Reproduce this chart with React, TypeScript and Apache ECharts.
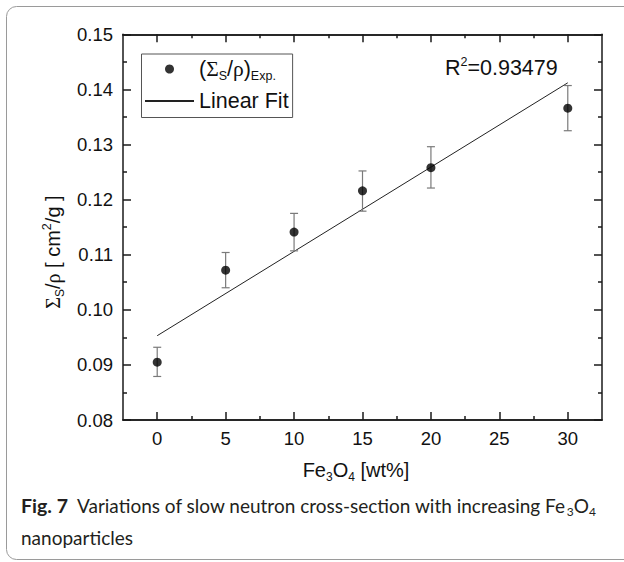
import React, { useEffect, useRef } from 'react';
import * as echarts from 'echarts';

// ---- data ----
const fe3o4Wt = [0, 5, 10, 15, 20, 30];
const sigmaRho = [0.0905, 0.1072, 0.1141, 0.1216, 0.1258, 0.1366];
const errLow = [0.0879, 0.104, 0.1107, 0.1179, 0.1221, 0.1325];
const errHigh = [0.0932, 0.1104, 0.1175, 0.1252, 0.1296, 0.1407];
const fitX = [0, 30];
const fitY = [0.0953, 0.1412];
const xMajorTicks = [0, 5, 10, 15, 20, 25, 30];
const xMinorTicks = [2.5, 7.5, 12.5, 17.5, 22.5, 27.5];
const xRange = [-2.5, 32.5];
const yRange = [0.08, 0.15];
const yStep = 0.01;
const rSquaredText = 'R{p|2}=0.93479';

const SANS = '"Liberation Sans", Arial, sans-serif';
const SERIF = '"Liberation Serif", "Times New Roman", serif';
const CAP = 'Lato, "Open Sans", sans-serif';

export default function App() {
  const ref = useRef<HTMLDivElement>(null);

  useEffect(() => {
    document.body.style.margin = '0';
    const chart = echarts.init(ref.current as HTMLDivElement, null, { renderer: 'svg' });

    const pts = fe3o4Wt.map((x, i) => [x, sigmaRho[i]]);
    const errs = fe3o4Wt.map((x, i) => [x, errLow[i], errHigh[i]]);
    const fit = fitX.map((x, i) => [x, fitY[i]]);

    const axisLine = { show: true, onZero: false, lineStyle: { color: '#1a1a1a', width: 1.5 } };
    const xBase = {
      type: 'value',
      min: xRange[0],
      max: xRange[1],
      gridIndex: 0,
      splitLine: { show: false },
      axisLine,
    };
    const majorTick = (vals: number[]) => ({
      show: true, inside: true, length: 8, customValues: vals,
      lineStyle: { color: '#1a1a1a', width: 1.5 },
    });
    const minorTickX = (vals: number[]) => ({
      show: true, inside: true, length: 4, customValues: vals,
      lineStyle: { color: '#1a1a1a', width: 1.5 },
    });
    const yBase = {
      type: 'value',
      min: yRange[0],
      max: yRange[1],
      interval: yStep,
      splitLine: { show: false },
      axisLine,
      axisTick: { show: true, inside: true, length: 8, lineStyle: { color: '#1a1a1a', width: 1.5 } },
      minorTick: { show: true, splitNumber: 2, length: 4, lineStyle: { color: '#1a1a1a', width: 1.5 } },
    };

    const subStyle = { fontSize: 12, lineHeight: 14, verticalAlign: 'bottom', fontFamily: SANS, color: '#111' };
    const subLegend = { fontSize: 12.5, lineHeight: 14, verticalAlign: 'bottom', fontFamily: SANS, color: '#111' };
    const supStyle = { fontSize: 12.5, lineHeight: 16, verticalAlign: 'top', fontFamily: SANS, color: '#111' };
    const greek = { fontSize: 20, lineHeight: 26, fontFamily: SERIF, color: '#111' };
    const greekL = { fontSize: 21.5, lineHeight: 26, fontFamily: SERIF, color: '#111' };

    chart.setOption({
      animation: false,
      backgroundColor: '#fff',
      grid: { left: 123, right: 22, top: 34.3, bottom: 142, containLabel: false, outerBoundsMode: 'none' },
      xAxis: [
        {
          ...xBase, position: 'bottom',
          axisTick: majorTick(xMajorTicks),
          axisLabel: { show: true, customValues: xMajorTicks, margin: 9, fontSize: 18.5, fontFamily: SANS, color: '#111' },
        },
        { ...xBase, position: 'top', axisTick: majorTick(xMajorTicks), axisLabel: { show: false } },
        { ...xBase, position: 'bottom', axisTick: minorTickX(xMinorTicks), axisLabel: { show: false } },
        { ...xBase, position: 'top', axisTick: minorTickX(xMinorTicks), axisLabel: { show: false } },
      ],
      yAxis: [
        {
          ...yBase, position: 'left',
          axisLabel: { show: true, margin: 10, fontSize: 18.5, fontFamily: SANS, color: '#111', formatter: (v: number) => v.toFixed(2) },
        },
        { ...yBase, position: 'right', axisLabel: { show: false } },
      ],
      legend: {
        orient: 'vertical',
        left: 141.5,
        top: 54,
        padding: [2, 4, 3.5, 2.5],
        itemGap: 6,
        itemWidth: 49,
        itemHeight: 9,
        borderColor: '#555',
        borderWidth: 1,
        backgroundColor: '#fff',
        selectedMode: false,
        data: [
          { name: 'exp', icon: 'circle' },
          { name: 'fit', itemStyle: { color: 'rgba(0,0,0,0)', borderColor: 'rgba(0,0,0,0)', borderWidth: 0, opacity: 0 } },
        ],
        formatter: (n: string) => (n === 'exp' ? '({g|Σ}{s|S}/{g|ρ}){s|Exp.}' : 'Linear Fit'),
        textStyle: {
          fontFamily: SANS, fontSize: 21.5, lineHeight: 26, color: '#111',
          rich: { g: greekL, s: subLegend },
        },
      },
      series: [
        {
          name: 'fit', type: 'line', data: fit, xAxisIndex: 0, yAxisIndex: 0,
          symbol: 'none', showSymbol: false,
          lineStyle: { color: '#222', width: 1 }, itemStyle: { color: '#222' }, z: 2,
        },
        {
          name: 'err', type: 'custom', data: errs, xAxisIndex: 0, yAxisIndex: 0, z: 3,
          encode: { x: 0, y: [1, 2] },
          renderItem: (params: any, api: any) => {
            const x = api.value(0);
            const lo = api.coord([x, api.value(1)]);
            const hi = api.coord([x, api.value(2)]);
            const w = 4;
            const st = { stroke: '#7a7a7a', lineWidth: 1.2 };
            return {
              type: 'group',
              children: [
                { type: 'line', shape: { x1: lo[0], y1: lo[1], x2: hi[0], y2: hi[1] }, style: st },
                { type: 'line', shape: { x1: lo[0] - w, y1: lo[1], x2: lo[0] + w, y2: lo[1] }, style: st },
                { type: 'line', shape: { x1: hi[0] - w, y1: hi[1], x2: hi[0] + w, y2: hi[1] }, style: st },
              ],
            };
          },
        },
        {
          name: 'exp', type: 'scatter', data: pts, xAxisIndex: 0, yAxisIndex: 0,
          symbol: 'circle', symbolSize: 9, itemStyle: { color: '#000' }, z: 4,
        },
      ],
      graphic: [
        {
          type: 'rect', z: -10, silent: true,
          shape: { x: 6.5, y: 6.5, width: 660, height: 553, r: 10 },
          style: { fill: 'none', stroke: '#9a9a9a', lineWidth: 1 },
        },
        {
          type: 'text', x: 445, y: 68, z: 10,
          style: {
            text: rSquaredText, fontFamily: SANS, fontSize: 21.5, fill: '#111',
            align: 'left', verticalAlign: 'middle', lineHeight: 26,
            rich: { p: supStyle },
          },
        },
        {
          type: 'text', x: 53, y: 252, rotation: Math.PI / 2, z: 10,
          style: {
            text: '{g|Σ}{s|S}/{g|ρ} [ cm{p|2}/g ]', fontFamily: SANS, fontSize: 20, fill: '#111',
            align: 'center', verticalAlign: 'middle', lineHeight: 26,
            rich: { g: greek, s: subStyle, p: supStyle },
          },
        },
        {
          type: 'text', x: 356, y: 470, z: 10,
          style: {
            text: 'Fe{s|3}O{s|4} [wt%]', fontFamily: SANS, fontSize: 20, fill: '#111',
            align: 'center', verticalAlign: 'middle', lineHeight: 26,
            rich: { s: subStyle },
          },
        },
        {
          type: 'text', x: 21, y: 505, z: 10,
          style: {
            text: '{b|Fig. 7}  Variations of slow neutron cross-section with increasing Fe{u|3}O{u|4}',
            fontFamily: CAP, fontSize: 19, fill: '#231f20',
            align: 'left', verticalAlign: 'middle', lineHeight: 24,
            rich: {
              b: { fontFamily: CAP, fontSize: 19.5, fontWeight: 'bold', lineHeight: 24, color: '#231f20' },
              u: { fontFamily: CAP, fontSize: 12, lineHeight: 13, verticalAlign: 'bottom', color: '#231f20' },
            },
          },
        },
        {
          type: 'text', x: 21, y: 537, z: 10,
          style: {
            text: 'nanoparticles', fontFamily: CAP, fontSize: 19, fill: '#231f20',
            align: 'left', verticalAlign: 'middle',
          },
        },
      ],
    });

    return () => chart.dispose();
  }, []);

  return <div ref={ref} style={{ position: 'absolute', left: 0, top: 0, width: 624, height: 562 }} />;
}
